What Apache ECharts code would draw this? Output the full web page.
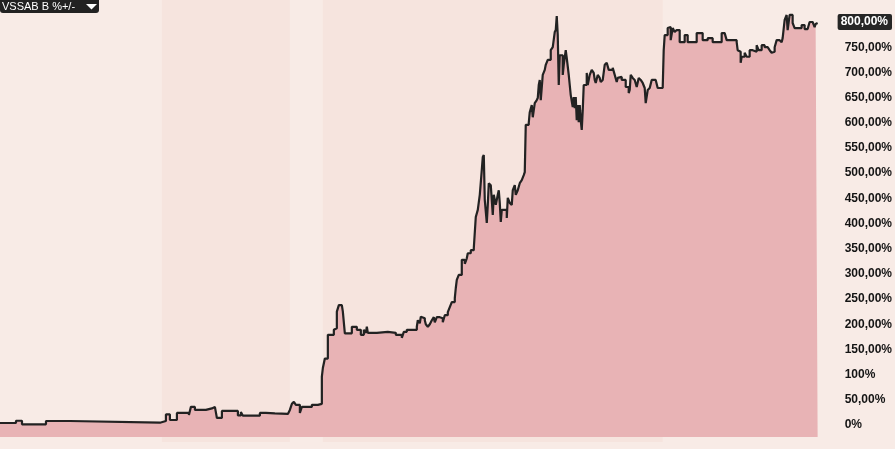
<!DOCTYPE html>
<html>
<head>
<meta charset="utf-8">
<script src="https://cdn.jsdelivr.net/npm/echarts@6/dist/echarts.min.js"></script>
<style>
html,body{margin:0;padding:0;background:#f8ebe6;}
#chart{width:895px;height:449px;}
</style>
</head>
<body>
<div id="chart"></div>
<script>
// Time index (sessions) and VSSAB B cumulative change in %
const sessions = [0,16,22,46,70,160,166,170,177,189,191,195,206,212,215,217,222,238,241,243,260,266,275,288,290,292,294,296,298,300,302,308,312,318,322,323,325,328,334,335,337,339,342,343,345,352,357,361,364,366,367,368,377,388,396,402,404,407,417,418,420,421,423,425,426,428,430,432,434,435,437,440,443,445,448,450,452,455,456,457,459,462,465,467,468,471,474,476,478,480,482,483,484,485,487,488,489,491,492,493,494,496,497,498,499,500,501,502,507,508,510,512,513,515,516,518,520,522,524,525,526,529,530,532,533,535,537,538,539,540,541,543,545,546,548,551,553,555,556,557,558,559,560,562,563,564,566,567,569,570,571,573,574,575,576,577,578,579,580,581,582,583,584,587,588,590,592,594,595,596,598,600,601,603,605,607,609,613,615,617,618,620,622,626,629,630,631,633,635,637,639,641,643,645,646,648,650,652,656,658,663,664,665,668,670,671,673,675,677,680,685,688,697,703,708,713,718,722,725,727,733,737,738,740,741,742,745,747,750,753,757,759,762,765,768,770,772,773,775,777,780,782,783,785,787,788,790,792,793,795,798,802,805,808,810,813,815,816,818];
const changePct = [4,8.5,1.4,8,4.6,8,21,10,24,20,36,30,33,36,38,14,28,19,26,18.5,24,23,22,24,30,42,46,40,40,24,36,36,40,42,96,113,132,179,189,192,225,238,238,225,182,195,189,179,189,183,195,183,185,183,179,173,185,189,195,208,202,215,212,208,200,195,200,208,214,204,214,212,204,218,224,234,244,252,272,288,298,328,320,331,341,347,351,413,427,457,506,532,536,447,401,437,480,476,447,417,457,437,447,457,466,441,403,427,411,451,441,437,466,476,457,466,480,486,496,502,596,600,621,635,611,639,645,649,675,685,645,695,705,715,725,744,750,780,784,812,774,675,734,734,695,715,744,729,695,675,655,631,651,629,651,605,635,601,635,605,586,625,675,699,675,695,705,699,685,679,695,689,681,685,715,719,705,709,695,681,689,691,685,671,659,665,695,689,685,671,689,685,679,669,639,665,669,685,685,669,669,744,774,788,790,764,788,780,784,760,774,760,778,764,768,760,760,778,778,764,764,760,744,741,719,731,739,731,744,741,754,744,754,750,748,744,739,741,750,764,764,760,768,804,814,784,814,814,798,788,788,794,786,788,800,798,790,796,798];
// Alternating period bands (session ranges)
const bandRanges = [[162,290],[323,663]];
// Right axis ticks
const yTickValues = [0,50,100,150,200,250,300,350,400,450,500,550,600,650,700,750,800];
const yTickLabels = ['0%','50,00%','100%','150,00%','200,00%','250,00%','300,00%','350,00%','400,00%','450,00%','500,00%','550,00%','600,00%','650,00%','700,00%','750,00%','800,00%'];
const seriesName = 'VSSAB B %+/-';
const lastValueTick = 800;
const yMin = -33.7, yMax = 843.7, xMax = 818;

// step-shaped data (value held until next session)
const lineData = [];
sessions.forEach((s,i)=>{
  if(i>0) lineData.push([s, changePct[i-1]]);
  lineData.push([s, changePct[i]]);
});

const chart = echarts.init(document.getElementById('chart'), null, {renderer:'canvas'});
const font = 'Liberation Sans, Arial';
chart.setOption({
  animation:false,
  backgroundColor:'#f8ebe6',
  grid:{left:0,right:77,top:0,bottom:7},
  xAxis:{type:'value',min:0,max:xMax,show:false},
  yAxis:{
    type:'value',position:'right',min:yMin,max:yMax,
    splitLine:{show:false},axisLine:{show:false},axisTick:{show:false},
    axisLabel:{
      customValues:yTickValues,
      margin:20,
      formatter:(v)=>{
        const i = yTickValues.indexOf(v);
        if(i<0) return '';
        return v===lastValueTick ? '{b|'+yTickLabels[i]+'}' : '{n|'+yTickLabels[i]+'}';
      },
      rich:{
        n:{fontFamily:font,fontSize:12,fontWeight:'bold',color:'#141414',padding:[0,0,0,7]},
        b:{fontFamily:font,fontSize:12,fontWeight:'bold',color:'#ffffff',backgroundColor:'#262626',borderRadius:2,lineHeight:12,padding:[2,4,2,3]}
      }
    }
  },
  series:[
    {
      type:'line',data:[],z:1,silent:true,
      markArea:{silent:true,itemStyle:{color:'#f6e4de'},data:bandRanges.map(r=>[{xAxis:r[0],yAxis:yMin},{xAxis:r[1],yAxis:yMax}])}
    },
    {
      name:seriesName,type:'line',data:lineData,z:3,
      symbol:'none',
      lineStyle:{color:'#222222',width:2.2},
      areaStyle:{color:'#e8b3b5',opacity:1,origin:-24}
    }
  ],
  graphic:[
    {type:'group',left:0,top:0,children:[
      {type:'rect',shape:{x:0,y:0,width:99,height:13,r:[0,0,3,3]},style:{fill:'#222222'}},
      {type:'text',x:2,y:1.5,style:{text:seriesName,fill:'#ffffff',font:'11px Liberation Sans, Arial'}},
      {type:'polygon',shape:{points:[[86,4],[97,4],[91.5,9.5]]},style:{fill:'#ffffff'}}
    ]}
  ]
});
// small pointer on the last-value badge
const py = chart.convertToPixel({yAxisIndex:0}, lastValueTick);
const gx = chart.convertToPixel({xAxisIndex:0}, xMax);
chart.setOption({graphic:[{type:'polygon',shape:{points:[[gx+18,py-4],[gx+20.5,py-4],[gx+20.5,py+4],[gx+18,py+4],[gx+16,py]]},style:{fill:'#262626'}}]});
</script>
</body>
</html>
